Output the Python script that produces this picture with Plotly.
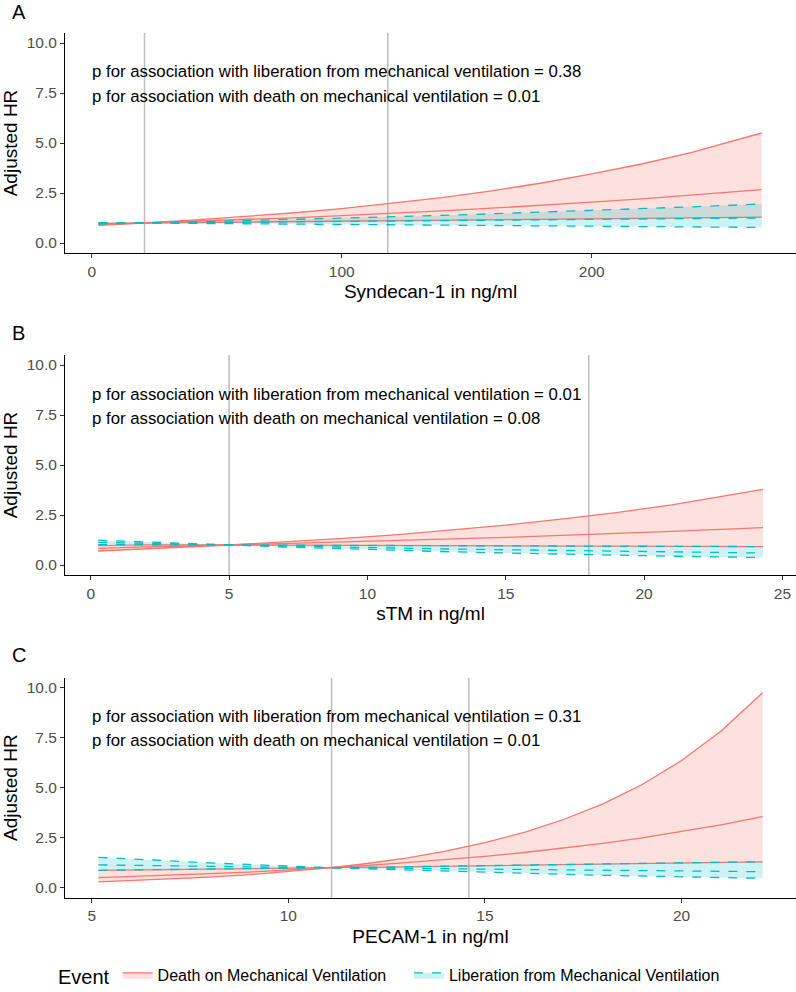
import plotly.graph_objects as go

RED = "#F8766D"
TEAL = "#00BFC4"
RED_FILL = "rgba(248,118,109,0.22)"
TEAL_FILL = "rgba(0,191,196,0.20)"
FONT = "Liberation Sans, Arial, sans-serif"

# ---------------- Panel A : Syndecan-1 ----------------
a_x = [2.7, 21, 40, 60, 80, 100, 120, 140, 160, 180, 200, 220, 240, 268]
a_death_mid = [0.93, 1.00, 1.08, 1.17, 1.26, 1.37, 1.48, 1.61, 1.74, 1.88, 2.04, 2.21, 2.39, 2.67]
a_death_lo = [0.88, 1.00, 1.02, 1.04, 1.06, 1.09, 1.11, 1.13, 1.16, 1.18, 1.21, 1.23, 1.26, 1.29]
a_death_hi = [0.98, 1.00, 1.14, 1.31, 1.50, 1.72, 1.98, 2.27, 2.61, 3.00, 3.46, 3.95, 4.53, 5.50]
a_lib_mid = [0.98, 1.00, 1.02, 1.04, 1.05, 1.07, 1.09, 1.11, 1.13, 1.15, 1.18, 1.20, 1.22, 1.25]
a_lib_lo = [0.95, 1.00, 0.98, 0.96, 0.94, 0.92, 0.91, 0.89, 0.87, 0.85, 0.84, 0.82, 0.80, 0.78]
a_lib_hi = [1.02, 1.00, 1.05, 1.11, 1.17, 1.24, 1.31, 1.38, 1.46, 1.54, 1.62, 1.71, 1.81, 1.95]
a_vlines = [21.1, 118.4]
a_ticks = [0, 100, 200]
a_range = [-10.7, 281.7]
a_title = "Syndecan-1 in ng/ml"
a_p = ["p for association with liberation from mechanical ventilation = 0.38",
       "p for association with death on mechanical ventilation = 0.01"]

# ---------------- Panel B : sTM ----------------
b_x = [0.27, 2, 5, 7, 9, 11, 13, 15, 17, 19, 21, 23, 24.3]
b_death_mid = [0.83, 0.91, 1.00, 1.07, 1.14, 1.21, 1.30, 1.38, 1.48, 1.57, 1.68, 1.79, 1.87]
b_death_lo = [0.70, 0.81, 1.00, 0.99, 0.98, 0.98, 0.97, 0.96, 0.95, 0.94, 0.94, 0.93, 0.92]
b_death_hi = [0.97, 1.01, 1.00, 1.15, 1.32, 1.51, 1.74, 1.99, 2.29, 2.62, 3.01, 3.46, 3.78]
b_lib_mid = [1.13, 1.08, 1.00, 0.95, 0.90, 0.85, 0.80, 0.76, 0.72, 0.68, 0.65, 0.62, 0.60]
b_lib_lo = [1.02, 1.01, 1.00, 0.90, 0.81, 0.73, 0.66, 0.60, 0.54, 0.49, 0.44, 0.40, 0.37]
b_lib_hi = [1.24, 1.16, 1.00, 0.99, 0.98, 0.97, 0.97, 0.96, 0.95, 0.94, 0.93, 0.93, 0.92]
b_vlines = [5.0, 18.0]
b_ticks = [0, 5, 10, 15, 20, 25]
b_range = [-0.93, 25.49]
b_title = "sTM in ng/ml"
b_p = ["p for association with liberation from mechanical ventilation = 0.01",
       "p for association with death on mechanical ventilation = 0.08"]

# ---------------- Panel C : PECAM-1 ----------------
c_x = [5.17, 6, 7, 8, 9, 10, 11.1, 12, 13, 14, 15, 16, 17, 18, 19, 20, 21, 22.06]
c_death_mid = [0.50, 0.55, 0.62, 0.70, 0.78, 0.88, 1.00, 1.11, 1.25, 1.40, 1.57, 1.76, 1.98, 2.22, 2.49, 2.80, 3.14, 3.55]
c_death_lo = [0.29, 0.35, 0.43, 0.53, 0.65, 0.80, 1.00, 1.02, 1.05, 1.07, 1.10, 1.12, 1.15, 1.18, 1.20, 1.23, 1.26, 1.29]
c_death_hi = [0.87, 0.89, 0.91, 0.93, 0.95, 0.97, 1.00, 1.21, 1.48, 1.83, 2.25, 2.77, 3.41, 4.19, 5.16, 6.36, 7.82, 9.75]
c_lib_mid = [1.14, 1.11, 1.09, 1.07, 1.04, 1.02, 1.00, 0.98, 0.96, 0.94, 0.92, 0.90, 0.88, 0.87, 0.85, 0.83, 0.81, 0.80]
c_lib_lo = [0.87, 0.89, 0.91, 0.93, 0.95, 0.97, 1.00, 0.94, 0.88, 0.82, 0.76, 0.71, 0.67, 0.62, 0.58, 0.54, 0.51, 0.47]
c_lib_hi = [1.52, 1.43, 1.33, 1.24, 1.16, 1.08, 1.00, 1.02, 1.05, 1.07, 1.10, 1.12, 1.15, 1.18, 1.21, 1.24, 1.27, 1.30]
c_vlines = [11.1, 14.59]
c_ticks = [5, 10, 15, 20]
c_range = [4.32, 22.91]
c_title = "PECAM-1 in ng/ml"
c_p = ["p for association with liberation from mechanical ventilation = 0.31",
       "p for association with death on mechanical ventilation = 0.01"]

y_ticks = [0, 2.5, 5, 7.5, 10]
y_tick_text = ["0.0", "2.5", "5.0", "7.5", "10.0"]
panel_letters = ["A", "B", "C"]
event_names = ["Death on Mechanical Ventilation", "Liberation from Mechanical Ventilation"]

W = 796.0
H = 992.0
L = 65.0
# pixel geometry of panels (top, bottom of plot area)
panel_px = [(33, 253), (355, 575), (677.7, 897.7)]
letter_px = [12, 333, 655]
ptext_px = [(71.5, 96), (394, 418.5), (716.5, 740.7)]

panels = [
    (a_x, a_death_mid, a_death_lo, a_death_hi, a_lib_mid, a_lib_lo, a_lib_hi, a_vlines, a_ticks, a_range, a_title, a_p),
    (b_x, b_death_mid, b_death_lo, b_death_hi, b_lib_mid, b_lib_lo, b_lib_hi, b_vlines, b_ticks, b_range, b_title, b_p),
    (c_x, c_death_mid, c_death_lo, c_death_hi, c_lib_mid, c_lib_lo, c_lib_hi, c_vlines, c_ticks, c_range, c_title, c_p),
]

# legend labels: trailing non-breaking spaces only widen the gap between the two entries
legend_labels = [event_names[0] + "\u00a0" * 4, event_names[1]]

fig = go.Figure()
shapes = []
annotations = []
layout = {}

for i, (xs, dm, dl, dh, lm, ll, lh, vls, xt, xr, xtitle, ptexts) in enumerate(panels):
    n = i + 1
    xa = "x" if n == 1 else f"x{n}"
    ya = "y" if n == 1 else f"y{n}"
    first = (i == 0)
    # death ribbon
    fig.add_trace(go.Scatter(x=xs, y=dl, mode="lines", line=dict(color=RED, width=1.3),
                             xaxis=xa, yaxis=ya, showlegend=False, legendgroup="death", hoverinfo="skip"))
    fig.add_trace(go.Scatter(x=xs, y=dh, mode="lines", line=dict(color=RED, width=1.3),
                             fill="tonexty", fillcolor=RED_FILL, name=legend_labels[0],
                             xaxis=xa, yaxis=ya, showlegend=first, legendgroup="death"))
    fig.add_trace(go.Scatter(x=xs, y=dm, mode="lines", line=dict(color=RED, width=1.3),
                             xaxis=xa, yaxis=ya, showlegend=False, legendgroup="death"))
    # liberation ribbon
    fig.add_trace(go.Scatter(x=xs, y=ll, mode="lines", line=dict(color=TEAL, width=1.3, dash="dash"),
                             xaxis=xa, yaxis=ya, showlegend=False, legendgroup="lib", hoverinfo="skip"))
    fig.add_trace(go.Scatter(x=xs, y=lh, mode="lines", line=dict(color=TEAL, width=1.3, dash="dash"),
                             fill="tonexty", fillcolor=TEAL_FILL, name=legend_labels[1],
                             xaxis=xa, yaxis=ya, showlegend=first, legendgroup="lib"))
    fig.add_trace(go.Scatter(x=xs, y=lm, mode="lines", line=dict(color=TEAL, width=1.3, dash="dash"),
                             xaxis=xa, yaxis=ya, showlegend=False, legendgroup="lib"))

    top, bot = panel_px[i]
    dom = [1 - bot / H, 1 - top / H]
    xkey = "xaxis" if n == 1 else f"xaxis{n}"
    ykey = "yaxis" if n == 1 else f"yaxis{n}"
    layout[xkey] = dict(domain=[0, 1], anchor=ya, range=xr, tickvals=xt, automargin=False,
                        showline=True, linecolor="black", linewidth=1.1,
                        ticks="outside", ticklen=4, tickcolor="#333333",
                        tickfont=dict(size=15.5, color="#4D4D4D", family=FONT),
                        showgrid=False, zeroline=False,
                        title=dict(text=xtitle, font=dict(size=19, color="black", family=FONT), standoff=6))
    layout[ykey] = dict(domain=dom, anchor=xa, range=[-0.5, 10.5], tickvals=y_ticks, ticktext=y_tick_text,
                        automargin=False,
                        showline=True, linecolor="black", linewidth=1.1,
                        ticks="outside", ticklen=4, tickcolor="#333333",
                        tickfont=dict(size=15.5, color="#4D4D4D", family=FONT),
                        showgrid=False, zeroline=False,
                        title=dict(text="Adjusted HR", font=dict(size=19, color="black", family=FONT), standoff=6))
    for v in vls:
        shapes.append(dict(type="line", xref=xa, yref=f"{ya} domain", x0=v, x1=v, y0=0, y1=1,
                           line=dict(color="#BEBEBE", width=1.5), layer="below"))
    annotations.append(dict(text=panel_letters[i], xref="paper", yref="paper",
                            x=(10 - L) / (W - L), y=1 - letter_px[i] / H, xanchor="left", yanchor="middle",
                            showarrow=False, font=dict(size=20, color="black", family=FONT)))
    for t, ypx in zip(ptexts, ptext_px[i]):
        annotations.append(dict(text=t, xref="paper", yref="paper",
                                x=(90 - L) / (W - L), y=1 - ypx / H, xanchor="left", yanchor="middle",
                                showarrow=False, font=dict(size=16.8, color="black", family=FONT)))

fig.update_layout(
    width=796, height=992,
    margin=dict(l=L, r=0, t=0, b=0, autoexpand=False),
    paper_bgcolor="white", plot_bgcolor="white",
    font=dict(family=FONT, color="black"),
    shapes=shapes, annotations=annotations,
    legend=dict(orientation="h", xref="container", yref="container",
                x=56 / W, xanchor="left", y=1 - 976 / H, yanchor="middle",
                title=dict(text="Event", font=dict(size=20, family=FONT), side="left"),
                font=dict(size=16, family=FONT, color="black"),
                itemwidth=30, bgcolor="rgba(0,0,0,0)"),
    **layout,
)

fig.write_html("out.html",
               config={"displayModeBar": False},
               post_script="document.body.style.margin='0';document.body.style.padding='0';"
                           "document.documentElement.style.overflow='hidden';")
